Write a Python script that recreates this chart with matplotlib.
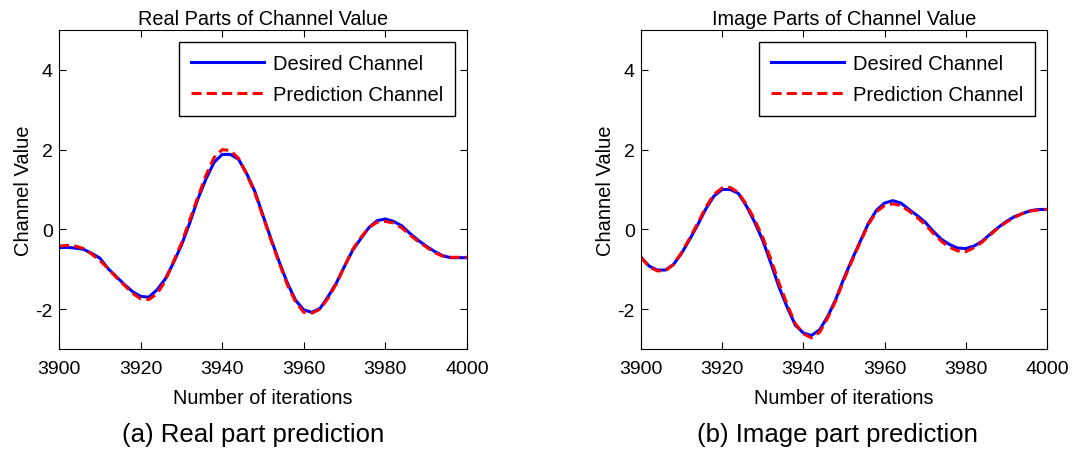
import matplotlib
matplotlib.use("Agg")
import matplotlib.pyplot as plt
import numpy as np

plt.rcParams['font.family'] = ['Liberation Sans', 'DejaVu Sans']
plt.rcParams['axes.unicode_minus'] = False

# iteracoes (a cada 2)
iteracoes = np.arange(3900, 4001, 2)

real_desejado = [-0.46, -0.45, -0.47, -0.50, -0.60, -0.72, -0.98, -1.18, -1.38, -1.56,
                 -1.68, -1.70, -1.52, -1.25, -0.85, -0.40, 0.15, 0.75, 1.26, 1.68,
                 1.88, 1.88, 1.76, 1.40, 0.95, 0.35, -0.25, -0.82, -1.35, -1.78,
                 -2.02, -2.08, -1.98, -1.68, -1.34, -0.92, -0.52, -0.23, 0.05, 0.22,
                 0.26, 0.20, 0.09, -0.10, -0.27, -0.42, -0.55, -0.66, -0.71, -0.71,
                 -0.71]
real_predito = [-0.42, -0.40, -0.42, -0.48, -0.62, -0.78, -0.98, -1.20, -1.40, -1.60,
                -1.74, -1.76, -1.62, -1.30, -0.82, -0.35, 0.22, 0.80, 1.35, 1.80,
                2.00, 1.98, 1.78, 1.38, 0.92, 0.32, -0.28, -0.85, -1.40, -1.82,
                -2.08, -2.10, -2.00, -1.72, -1.36, -0.92, -0.50, -0.20, 0.05, 0.18,
                0.20, 0.16, 0.04, -0.14, -0.30, -0.44, -0.58, -0.67, -0.70, -0.70,
                -0.70]

imag_desejado = [-0.70, -0.92, -1.02, -1.02, -0.88, -0.60, -0.25, 0.12, 0.52, 0.84,
                 1.00, 1.00, 0.90, 0.58, 0.18, -0.28, -0.85, -1.45, -1.95, -2.40,
                 -2.60, -2.66, -2.52, -2.18, -1.75, -1.22, -0.75, -0.30, 0.15, 0.48,
                 0.66, 0.72, 0.66, 0.50, 0.35, 0.18, -0.05, -0.25, -0.38, -0.47,
                 -0.48, -0.42, -0.30, -0.12, 0.05, 0.20, 0.32, 0.40, 0.47, 0.50,
                 0.50]
imag_predito = [-0.70, -0.94, -1.04, -1.04, -0.88, -0.58, -0.22, 0.16, 0.56, 0.88,
                1.04, 1.05, 0.92, 0.62, 0.24, -0.20, -0.75, -1.35, -1.88, -2.36,
                -2.62, -2.72, -2.58, -2.22, -1.78, -1.26, -0.78, -0.32, 0.12, 0.44,
                0.60, 0.64, 0.60, 0.46, 0.30, 0.12, -0.10, -0.30, -0.45, -0.54,
                -0.56, -0.46, -0.32, -0.14, 0.04, 0.18, 0.30, 0.40, 0.46, 0.49,
                0.50]

titulos = ['Real Parts of Channel Value', 'Image Parts of Channel Value']
legendas = ['(a) Real part prediction', '(b) Image part prediction']
xticks = [3900, 3920, 3940, 3960, 3980, 4000]
yticks = [-2, 0, 2, 4]


def desenhar(ax, desejado, predito, titulo):
    ax.plot(iteracoes, desejado, color='#0000ff', lw=2.2, label='Desired Channel')
    ax.plot(iteracoes, predito, color='#ff0000', lw=2.2, ls=(0, (3.3, 1.7)),
            label='Prediction Channel')
    ax.set_xlim(3900, 4000)
    ax.set_ylim(-3, 5)
    ax.set_xticks(xticks)
    ax.set_yticks(yticks)
    ax.tick_params(direction='in', top=True, right=True, length=5, labelsize=14)
    ax.tick_params(axis='x', pad=8)
    ax.tick_params(axis='y', pad=4.5)
    ax.set_title(titulo, fontsize=14.3, pad=4)
    ax.set_xlabel('Number of iterations', fontsize=14.3, labelpad=8)
    ax.set_ylabel('Channel Value', fontsize=14.5, labelpad=2)
    leg = ax.legend(loc='upper right', fontsize=14.5, fancybox=False, framealpha=1,
                    edgecolor='black', handlelength=3.6, borderaxespad=0.6,
                    borderpad=0.6, labelspacing=0.58, handletextpad=0.45)
    leg.get_frame().set_linewidth(1.0)


fig = plt.figure(figsize=(10.73, 4.52), dpi=100)
ax1 = fig.add_axes([59 / 1073, 102 / 452, 408 / 1073, 319 / 452])
ax2 = fig.add_axes([641 / 1073, 102 / 452, 406 / 1073, 319 / 452])

desenhar(ax1, real_desejado, real_predito, titulos[0])
desenhar(ax2, imag_desejado, imag_predito, titulos[1])

fig.text(253 / 1073, 1 - 435 / 452, legendas[0], fontsize=18.5,
         ha='center', va='center')
fig.text(837 / 1073, 1 - 435 / 452, legendas[1], fontsize=18.5,
         ha='center', va='center')

fig.savefig('out.png', dpi=100)
